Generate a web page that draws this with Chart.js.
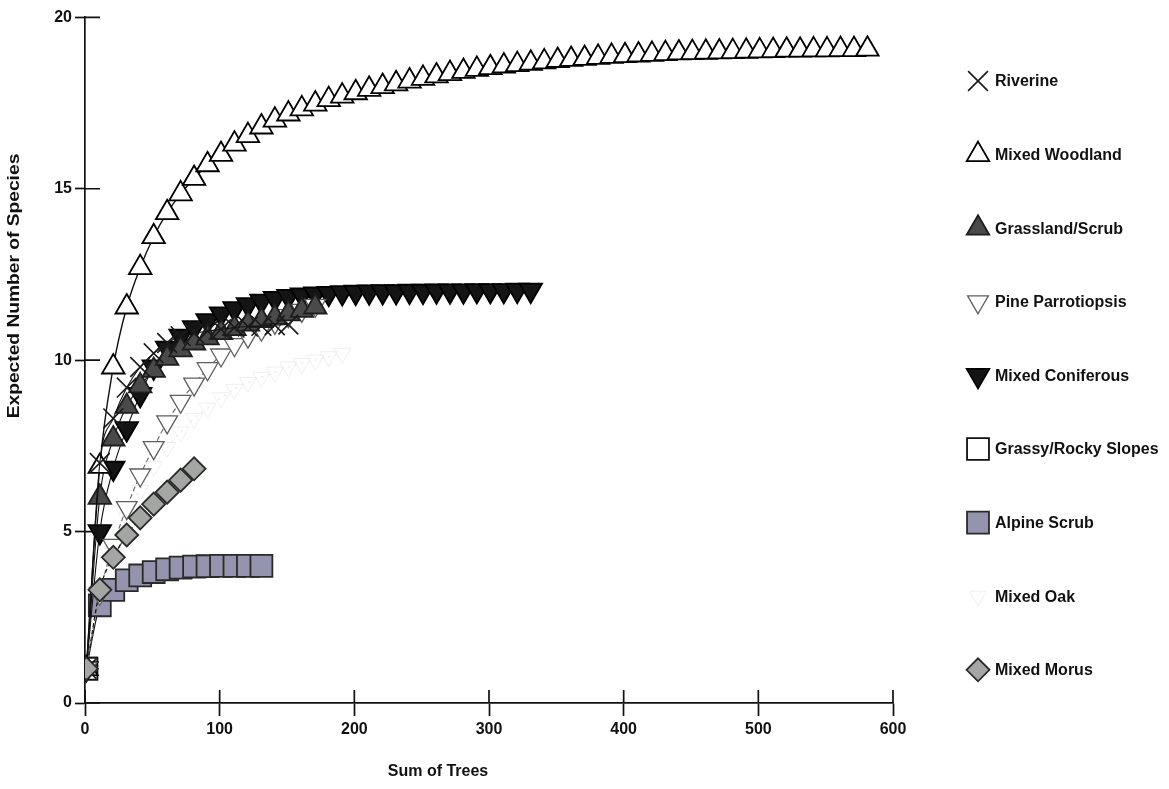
<!DOCTYPE html>
<html>
<head>
<meta charset="utf-8">
<script src="https://cdn.jsdelivr.net/npm/chart.js@4.4.1/dist/chart.umd.min.js"></script>
<style>
  html, body { margin: 0; padding: 0; background: #fff; }
  #wrap { width: 1169px; height: 789px; }
</style>
</head>
<body>
<div id="wrap"><canvas id="rarefaction" width="1169" height="789"></canvas></div>
<script>
// sample sizes (sum of trees) at which each curve was evaluated
const treeCounts = [1, 11, 21, 31, 41, 51, 61, 71, 81, 91, 101, 111, 121, 131, 141, 151, 161, 171, 181, 191,
  201, 211, 221, 231, 241, 251, 261, 271, 281, 291, 301, 311, 321, 331, 341, 351, 361, 371, 381, 391,
  401, 411, 421, 431, 441, 451, 461, 471, 481, 491, 501, 511, 521, 531, 541, 551, 561, 571, 581];

// expected number of species
const riverine = [1, 7.0, 8.3, 9.2, 9.8, 10.2, 10.5, 10.7, 10.78, 10.85, 10.9, 10.95, 10.98, 11.0, 11.02, 11.04];
const mixedWoodland = [1, 6.9, 9.8, 11.55, 12.7, 13.6, 14.3, 14.85, 15.3, 15.7, 16.0, 16.3, 16.55, 16.8, 17.0,
  17.18, 17.33, 17.47, 17.6, 17.7, 17.8, 17.9, 17.98, 18.06, 18.14, 18.22, 18.29, 18.36, 18.42, 18.48,
  18.53, 18.58, 18.62, 18.66, 18.7, 18.74, 18.77, 18.8, 18.83, 18.86, 18.88, 18.9, 18.92, 18.94, 18.96,
  18.97, 18.98, 18.99, 19.0, 19.01, 19.02, 19.03, 19.04, 19.04, 19.05, 19.05, 19.06, 19.06, 19.07];
const grasslandScrub = [1, 6.0, 7.7, 8.65, 9.25, 9.7, 10.05, 10.3, 10.5, 10.65, 10.8, 10.92, 11.05, 11.15,
  11.25, 11.35, 11.45, 11.55];
const pineParrotiopsis = [1, 3.2, 4.6, 5.7, 6.65, 7.45, 8.2, 8.8, 9.3, 9.75, 10.15, 10.45, 10.7, 10.9, 11.1,
  11.3, 11.45, 11.6];
const mixedConiferous = [1, 5.0, 6.85, 8.0, 9.0, 9.8, 10.35, 10.7, 10.95, 11.15, 11.35, 11.5, 11.62, 11.72,
  11.8, 11.86, 11.9, 11.93, 11.95, 11.97, 11.98, 11.99, 12.0, 12.0, 12.01, 12.01, 12.02, 12.02, 12.02,
  12.03, 12.03, 12.03, 12.04, 12.04];
const grassyRockySlopes = [1];
const alpineScrub = [1, 2.85, 3.3, 3.58, 3.72, 3.82, 3.9, 3.95, 3.98, 3.99, 4.0, 4.0, 4.0, 4.0];
const mixedOak = [1, 3.0, 4.4, 5.4, 6.2, 6.9, 7.45, 7.9, 8.3, 8.6, 8.9, 9.15, 9.35, 9.5, 9.65, 9.8, 9.9,
  10.0, 10.1, 10.2];
const mixedMorus = [1, 3.3, 4.25, 4.9, 5.4, 5.8, 6.15, 6.5, 6.83];

const xTickValues = [0, 100, 200, 300, 400, 500, 600];
const yTickValues = [0, 5, 10, 15, 20];

const FONT = '"Liberation Sans", Arial, sans-serif';

function toPoints(ys) {
  return ys.map((y, i) => ({ x: treeCounts[i], y: y }));
}

function series(label, ys, style) {
  return Object.assign({
    label: label,
    data: toPoints(ys),
    borderColor: '#111',
    borderWidth: 1.1,
    pointBorderWidth: 1.8,
    pointHoverRadius: 0,
    cubicInterpolationMode: 'monotone',
    fill: false
  }, style);
}

const datasets = [
  series('Riverine', riverine, { pointStyle: 'crossRot', pointRadius: 14, pointBorderColor: '#1a1a1a', pointBackgroundColor: '#1a1a1a', pointBorderWidth: 1.6 }),
  series('Mixed Woodland', mixedWoodland, { pointStyle: 'triangle', pointRadius: 13, pointBorderColor: '#000', pointBackgroundColor: '#fff', borderWidth: 1.4 }),
  series('Grassland/Scrub', grasslandScrub, { pointStyle: 'triangle', pointRadius: 13, pointBorderColor: '#1e1e1e', pointBackgroundColor: '#4a4a4a' }),
  series('Pine Parrotiopsis', pineParrotiopsis, { pointStyle: 'triangle', pointRotation: 180, pointRadius: 12, pointBorderColor: '#5e5e5e', pointBackgroundColor: '#fff', pointBorderWidth: 1.3, borderColor: '#666', borderDash: [5, 3] }),
  series('Mixed Coniferous', mixedConiferous, { pointStyle: 'triangle', pointRotation: 180, pointRadius: 13, pointBorderColor: '#000', pointBackgroundColor: '#141414' }),
  series('Grassy/Rocky Slopes', grassyRockySlopes, { pointStyle: 'rect', pointRadius: 15.5, pointBorderColor: '#111', pointBackgroundColor: '#fff' }),
  series('Alpine Scrub', alpineScrub, { pointStyle: 'rect', pointRadius: 15.5, pointBorderColor: '#2a2a2a', pointBackgroundColor: '#9494ae' }),
  series('Mixed Oak', mixedOak, { pointStyle: 'triangle', pointRotation: 180, pointRadius: 10, pointBorderColor: '#efefef', pointBackgroundColor: 'rgba(255,255,255,0)', pointBorderWidth: 1, borderColor: '#e6e6e6', borderDash: [2, 5] }),
  series('Mixed Morus', mixedMorus, { pointStyle: 'rectRot', pointRadius: 11.5, pointBorderColor: '#2a2a2a', pointBackgroundColor: '#a4a6a4', borderDash: [4, 3], order: -1 })
];

// inner half of the axis ticks, axis titles and the legend column
const decorations = {
  id: 'decorations',
  afterDraw(chart) {
    const ctx = chart.ctx;
    const area = chart.chartArea;
    const xs = chart.scales.x, ys = chart.scales.y;

    ctx.save();
    ctx.strokeStyle = '#111';
    ctx.lineWidth = 1.7;
    ctx.beginPath();
    xs.ticks.forEach(t => {
      const px = xs.getPixelForValue(t.value);
      ctx.moveTo(px, area.bottom);
      ctx.lineTo(px, area.bottom - 13);
    });
    ys.ticks.forEach(t => {
      const py = ys.getPixelForValue(t.value);
      ctx.moveTo(area.left, py);
      ctx.lineTo(area.left + 15, py);
    });
    ctx.stroke();

    ctx.fillStyle = '#111';
    ctx.font = 'bold 16px ' + FONT;
    ctx.textAlign = 'center';
    ctx.textBaseline = 'middle';
    ctx.fillText('Sum of Trees', 438, 772);

    ctx.save();
    ctx.translate(15, 286);
    ctx.rotate(-Math.PI / 2);
    ctx.scale(1.2, 1);
    ctx.fillText('Expected Number of Species', 0, 0);
    ctx.restore();

    // legend
    ctx.textAlign = 'left';
    chart.data.datasets.forEach((ds, i) => {
      const y = 81 + i * 73.6;
      ctx.save();
      ctx.strokeStyle = ds.pointBorderColor;
      ctx.fillStyle = ds.pointBackgroundColor;
      ctx.lineWidth = ds.pointBorderWidth;
      Chart.helpers.drawPoint(ctx, {
        pointStyle: ds.pointStyle,
        rotation: ds.pointRotation || 0,
        radius: ds.pointRadius,
        borderWidth: ds.pointBorderWidth
      }, 978, y);
      ctx.restore();
      ctx.fillText(ds.label, 995, y + 1);
    });
    ctx.restore();
  }
};

new Chart(document.getElementById('rarefaction'), {
  type: 'line',
  data: { datasets: datasets },
  plugins: [decorations],
  options: {
    responsive: false,
    animation: false,
    events: [],
    layout: { padding: { top: 15, right: 276, bottom: 0, left: 0 } },
    plugins: { legend: { display: false }, tooltip: { enabled: false } },
    scales: {
      x: {
        type: 'linear',
        min: 0,
        max: 600,
        afterFit(scale) { scale.height = 86; },
        afterBuildTicks(scale) { scale.ticks = xTickValues.map(v => ({ value: v })); },
        border: { display: true, color: '#111', width: 1.7 },
        grid: { drawOnChartArea: false, drawTicks: true, tickLength: 13, tickColor: '#111', tickWidth: 1.7 },
        ticks: { color: '#111', padding: 4, maxRotation: 0, font: { family: FONT, size: 16, weight: 'bold' } }
      },
      y: {
        min: 0,
        max: 20,
        afterFit(scale) { scale.width = 85; },
        afterBuildTicks(scale) { scale.ticks = yTickValues.map(v => ({ value: v })); },
        border: { display: true, color: '#111', width: 1.7 },
        grid: { drawOnChartArea: false, drawTicks: true, tickLength: 10, tickColor: '#111', tickWidth: 1.7 },
        ticks: { color: '#111', padding: 3, font: { family: FONT, size: 16, weight: 'bold' } }
      }
    }
  }
});
</script>
</body>
</html>
